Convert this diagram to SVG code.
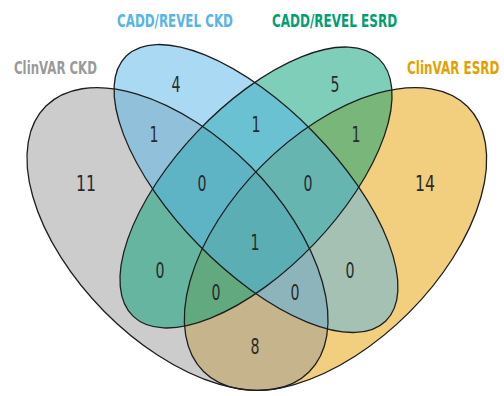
<svg xmlns="http://www.w3.org/2000/svg" xmlns:xlink="http://www.w3.org/1999/xlink" width="504" height="396" viewBox="0 0 504 396">
  <style>
    .fill { fill-opacity: 0.5; stroke: none; }
    .outline { fill: none; stroke: #1e1e1e; stroke-width: 1.3; }
    .title { font-family: "DejaVu Sans", "Liberation Sans", sans-serif; font-weight: bold; font-size: 17.5px; }
    .count { font-family: "DejaVu Sans", "Liberation Sans", sans-serif; font-size: 22px; fill: #2a2a2a; text-anchor: middle; }
  </style>
  <defs>
    <ellipse id="e-orange" cx="335.5" cy="239" rx="187" ry="104" transform="rotate(-45.1 335.5 239)"/>
    <ellipse id="e-gray" cx="177.5" cy="239" rx="187" ry="103" transform="rotate(45.3 177.5 239)"/>
    <ellipse id="e-green" cx="256" cy="187.5" rx="178" ry="81" transform="rotate(-46.4 256 187.5)"/>
    <ellipse id="e-blue" cx="256" cy="188.5" rx="185.5" ry="80.5" transform="rotate(45.6 256 188.5)"/>
  </defs>

  <g id="set-clinvar-esrd">
    <use xlink:href="#e-orange" href="#e-orange" class="fill" fill="#E69F00"/>
    <text class="title" transform="translate(407 74) scale(0.68 1)" x="0" y="0" fill="#E69F00" textLength="136" lengthAdjust="spacingAndGlyphs">ClinVAR ESRD</text>
  </g>
  <g id="set-clinvar-ckd">
    <use xlink:href="#e-gray" href="#e-gray" class="fill" fill="#999999"/>
    <text class="title" transform="translate(14 74) scale(0.68 1)" x="0" y="0" fill="#9a9a9a" textLength="122" lengthAdjust="spacingAndGlyphs">ClinVAR CKD</text>
  </g>
  <g id="set-cadd-revel-esrd">
    <use xlink:href="#e-green" href="#e-green" class="fill" fill="#009E73"/>
    <text class="title" transform="translate(272 27) scale(0.68 1)" x="0" y="0" fill="#009E73" textLength="184" lengthAdjust="spacingAndGlyphs">CADD/REVEL ESRD</text>
  </g>
  <g id="set-cadd-revel-ckd">
    <use xlink:href="#e-blue" href="#e-blue" class="fill" fill="#56B4E9"/>
    <text class="title" transform="translate(117 27) scale(0.68 1)" x="0" y="0" fill="#56B4E9" textLength="170.5" lengthAdjust="spacingAndGlyphs">CADD/REVEL CKD</text>
  </g>

  <g id="outlines">
    <use xlink:href="#e-orange" href="#e-orange" class="outline"/>
    <use xlink:href="#e-gray" href="#e-gray" class="outline"/>
    <use xlink:href="#e-green" href="#e-green" class="outline"/>
    <use xlink:href="#e-blue" href="#e-blue" class="outline"/>
  </g>

  <g id="counts">
    <text class="count" x="176" y="92" textLength="9" lengthAdjust="spacingAndGlyphs">4</text>
    <text class="count" x="335" y="92" textLength="9" lengthAdjust="spacingAndGlyphs">5</text>
    <text class="count" x="86" y="191" textLength="20" lengthAdjust="spacingAndGlyphs">11</text>
    <text class="count" x="425" y="191" textLength="20" lengthAdjust="spacingAndGlyphs">14</text>
    <text class="count" x="154" y="142" textLength="9" lengthAdjust="spacingAndGlyphs">1</text>
    <text class="count" x="256" y="132" textLength="9" lengthAdjust="spacingAndGlyphs">1</text>
    <text class="count" x="356" y="142" textLength="9" lengthAdjust="spacingAndGlyphs">1</text>
    <text class="count" x="202" y="191" textLength="9" lengthAdjust="spacingAndGlyphs">0</text>
    <text class="count" x="308" y="191" textLength="9" lengthAdjust="spacingAndGlyphs">0</text>
    <text class="count" x="255" y="250" textLength="9" lengthAdjust="spacingAndGlyphs">1</text>
    <text class="count" x="160" y="278" textLength="9" lengthAdjust="spacingAndGlyphs">0</text>
    <text class="count" x="350" y="278" textLength="9" lengthAdjust="spacingAndGlyphs">0</text>
    <text class="count" x="216" y="300" textLength="9" lengthAdjust="spacingAndGlyphs">0</text>
    <text class="count" x="295" y="300" textLength="9" lengthAdjust="spacingAndGlyphs">0</text>
    <text class="count" x="255" y="354" textLength="9" lengthAdjust="spacingAndGlyphs">8</text>
  </g>
</svg>
